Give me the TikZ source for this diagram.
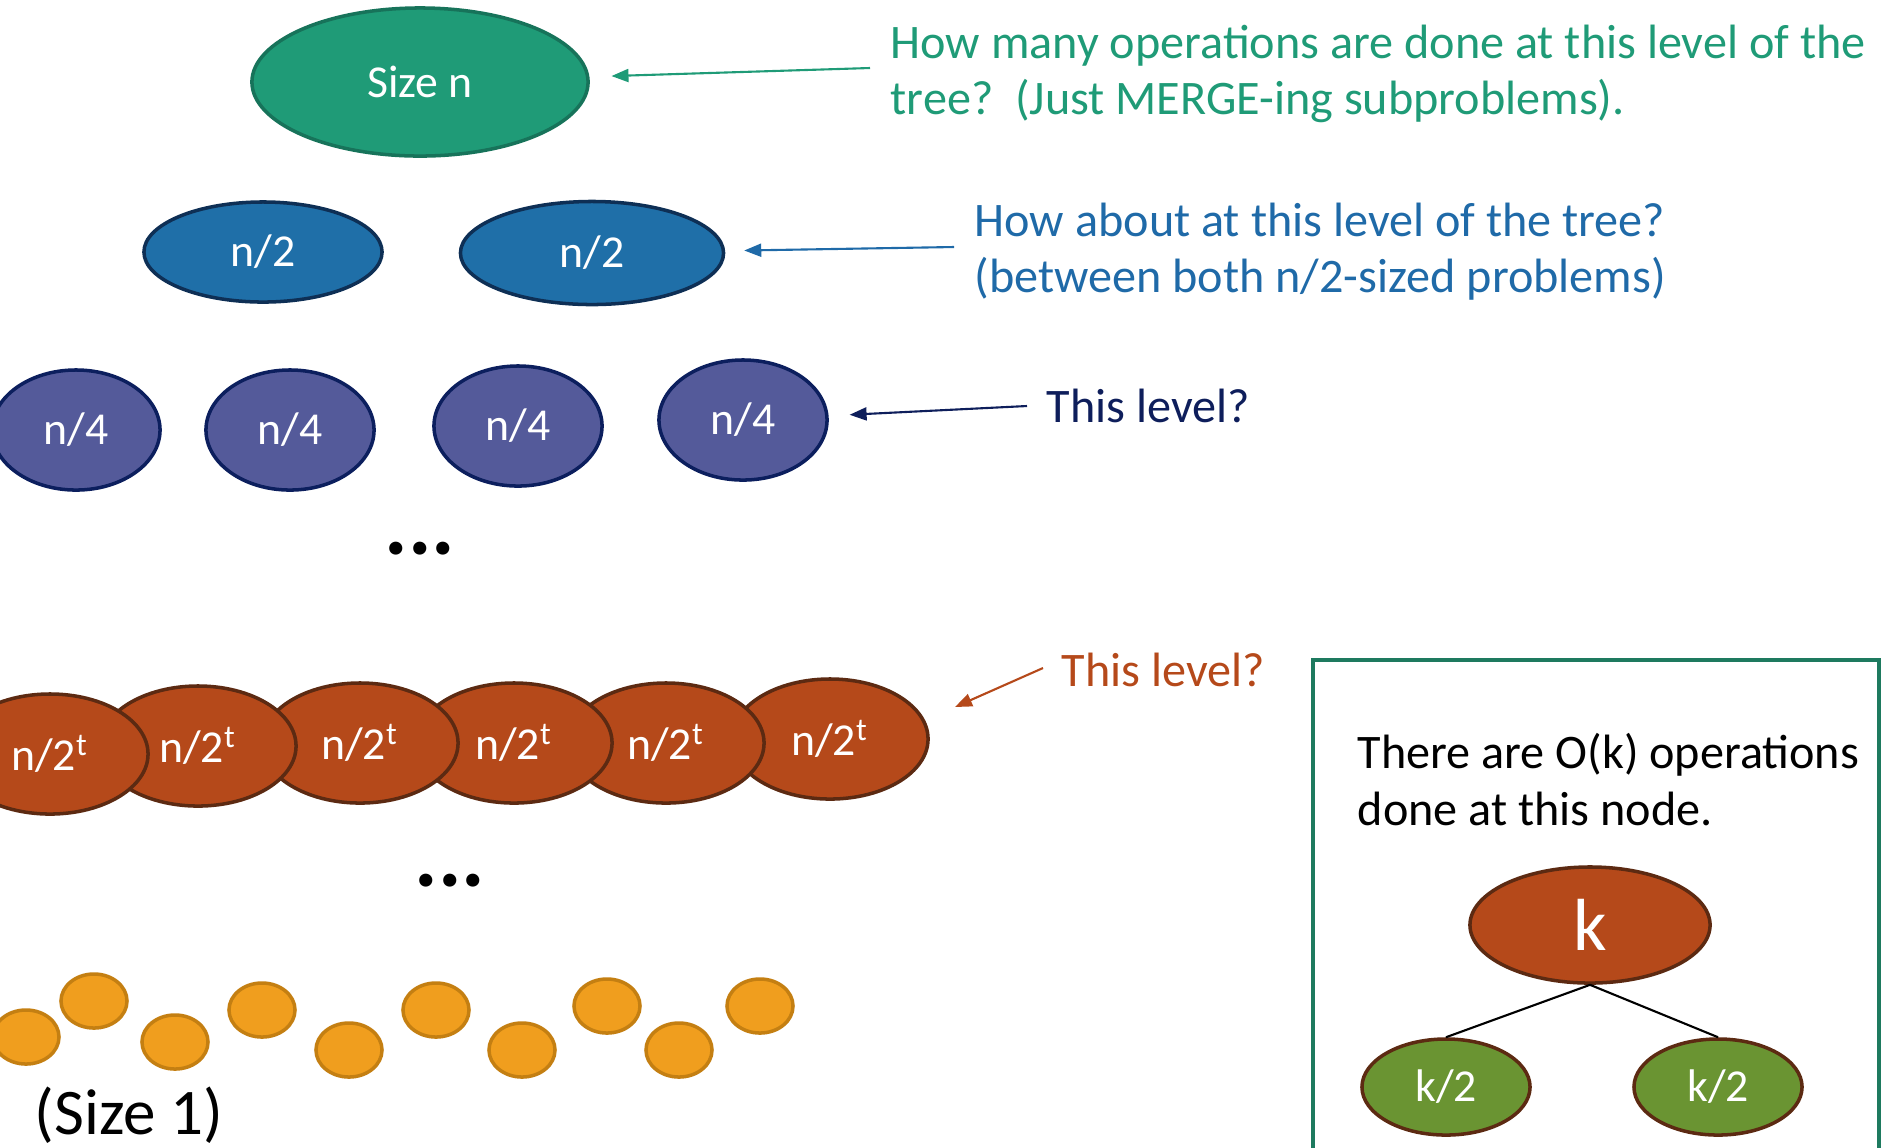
\documentclass[tikz,border=0pt]{standalone}
\usepackage{fontspec}
\setmainfont{Carlito}
\usetikzlibrary{arrows.meta,shapes.geometric}

\definecolor{rootfill}{HTML}{1F9B77}
\definecolor{rootline}{HTML}{17735A}
\definecolor{halffill}{HTML}{1F6FA8}
\definecolor{halfline}{HTML}{0E2F55}
\definecolor{halftext}{HTML}{1F6AA8}
\definecolor{quartfill}{HTML}{545A9A}
\definecolor{quartline}{HTML}{0C1F5E}
\definecolor{quarttext}{HTML}{0E1E5B}
\definecolor{deepfill}{HTML}{B5491A}
\definecolor{deepline}{HTML}{5C2A12}
\definecolor{leaffill}{HTML}{F09E1E}
\definecolor{leafline}{HTML}{C47F12}
\definecolor{kidfill}{HTML}{6A9432}
\definecolor{boxline}{HTML}{1E7A5F}

\begin{document}
\begin{tikzpicture}[x=0.01cm,y=-0.01cm,>={Triangle[length=1.7mm,width=1.3mm]},
  blob/.style={ellipse,draw,line width=1pt,text=white,inner sep=0pt,font=\fontsize{13}{15}\selectfont},
  note/.style={inner sep=0pt,align=left,font=\fontsize{13.7}{15.9}\selectfont},
  pointer/.style={->,line width=0.6pt}]
\useasboundingbox (0,0) rectangle (1882,1147);
\clip (0,0) rectangle (1882,1147);

% top of the recursion tree
\node[blob,fill=rootfill,draw=rootline,minimum width=3.36cm,minimum height=1.48cm] (root) at (420,82) {Size n};
\node[note,text=rootfill,anchor=north west] (rootq) at (890,24)
  {How many operations are done at this level of the\\tree?\ \ (Just MERGE-ing subproblems).};
\coordinate (roottail) at (870,68);
\draw[pointer,rootfill,shorten >=0.22cm] (roottail) -- (root);

% n/2
\node[blob,fill=halffill,draw=halfline,minimum width=2.38cm,minimum height=1cm] (half1) at (263,252) {n/2};
\node[blob,fill=halffill,draw=halfline,minimum width=2.63cm,minimum height=1.03cm] (half2) at (592,253) {n/2};
\node[note,text=halftext,anchor=north west] (halfq) at (974,202)
  {How about at this level of the tree?\\(between both n/2-sized problems)};
\coordinate (halftail) at (954,247);
\draw[pointer,halftext,shorten >=0.19cm] (halftail) -- (half2);

% n/4
\foreach \i/\x/\y in {1/76/430,2/290/430,3/518/426,4/743/420}
  \node[blob,fill=quartfill,draw=quartline,minimum width=1.68cm,minimum height=1.2cm] (quart\i) at (\x,\y) {n/4};
\node[note,text=quarttext,anchor=base west] (quartq) at (1046,422) {This level?};
\coordinate (quarttail) at (1027,406);
\draw[pointer,quarttext,shorten >=0.21cm] (quarttail) -- (quart4);

\node[inner sep=0pt,anchor=base,font=\fontsize{25}{30}\selectfont\bfseries] (dotsa) at (420,554) {...};

% n/2^t, right one first so the left ones lie on top
\foreach \i/\x/\y in {6/830/739,5/666/743,4/514/743,3/360/743,2/198/746,1/50/754}
  \node[blob,fill=deepfill,draw=deepline,minimum width=1.96cm,minimum height=1.2cm] (deep\i) at (\x,\y) {n/2\textsuperscript{t}};
\node[note,text=deepfill,anchor=base west] (deepq) at (1061,686) {This level?};
\coordinate (deeptail) at (1043,668);
\coordinate (deeptip) at (955,707);
\draw[pointer,deepfill] (deeptail) -- (deeptip);

\node[inner sep=0pt,anchor=base,font=\fontsize{25}{30}\selectfont\bfseries] (dotsb) at (450,886) {...};

% leaves
\foreach \i/\x/\y in {1/26/1037,2/94/1001,3/175/1042,4/262/1010,5/349/1050,6/436/1010,7/522/1050,8/607/1006,9/679/1050,10/760/1006}
  \node[ellipse,fill=leaffill,draw=leafline,line width=1pt,minimum width=0.66cm,minimum height=0.54cm,inner sep=0pt] (leaf\i) at (\x,\y) {};
\node[inner sep=0pt,anchor=base west,font=\fontsize{18.5}{22}\selectfont] (leafq) at (34,1134) {(Size 1)};

% side box
\draw[boxline,line width=1pt] (1313,660) rectangle (1879,1170);
\node[note,anchor=north west,font=\fontsize{13.7}{16.2}\selectfont] (boxq) at (1357,733)
  {There are O(k) operations\\done at this node.};
\node[blob,fill=deepfill,draw=deepline,minimum width=2.4cm,minimum height=1.16cm,font=\fontsize{21}{25}\selectfont] (k) at (1590,925) {k};
\node[blob,fill=kidfill,draw=deepline,minimum width=1.68cm,minimum height=0.96cm] (kl) at (1446,1087) {k/2};
\node[blob,fill=kidfill,draw=deepline,minimum width=1.68cm,minimum height=0.96cm] (kr) at (1718,1087) {k/2};
\draw[line width=0.6pt] (k.south) -- (kl.north);
\draw[line width=0.6pt] (k.south) -- (kr.north);
\end{tikzpicture}
\end{document}
